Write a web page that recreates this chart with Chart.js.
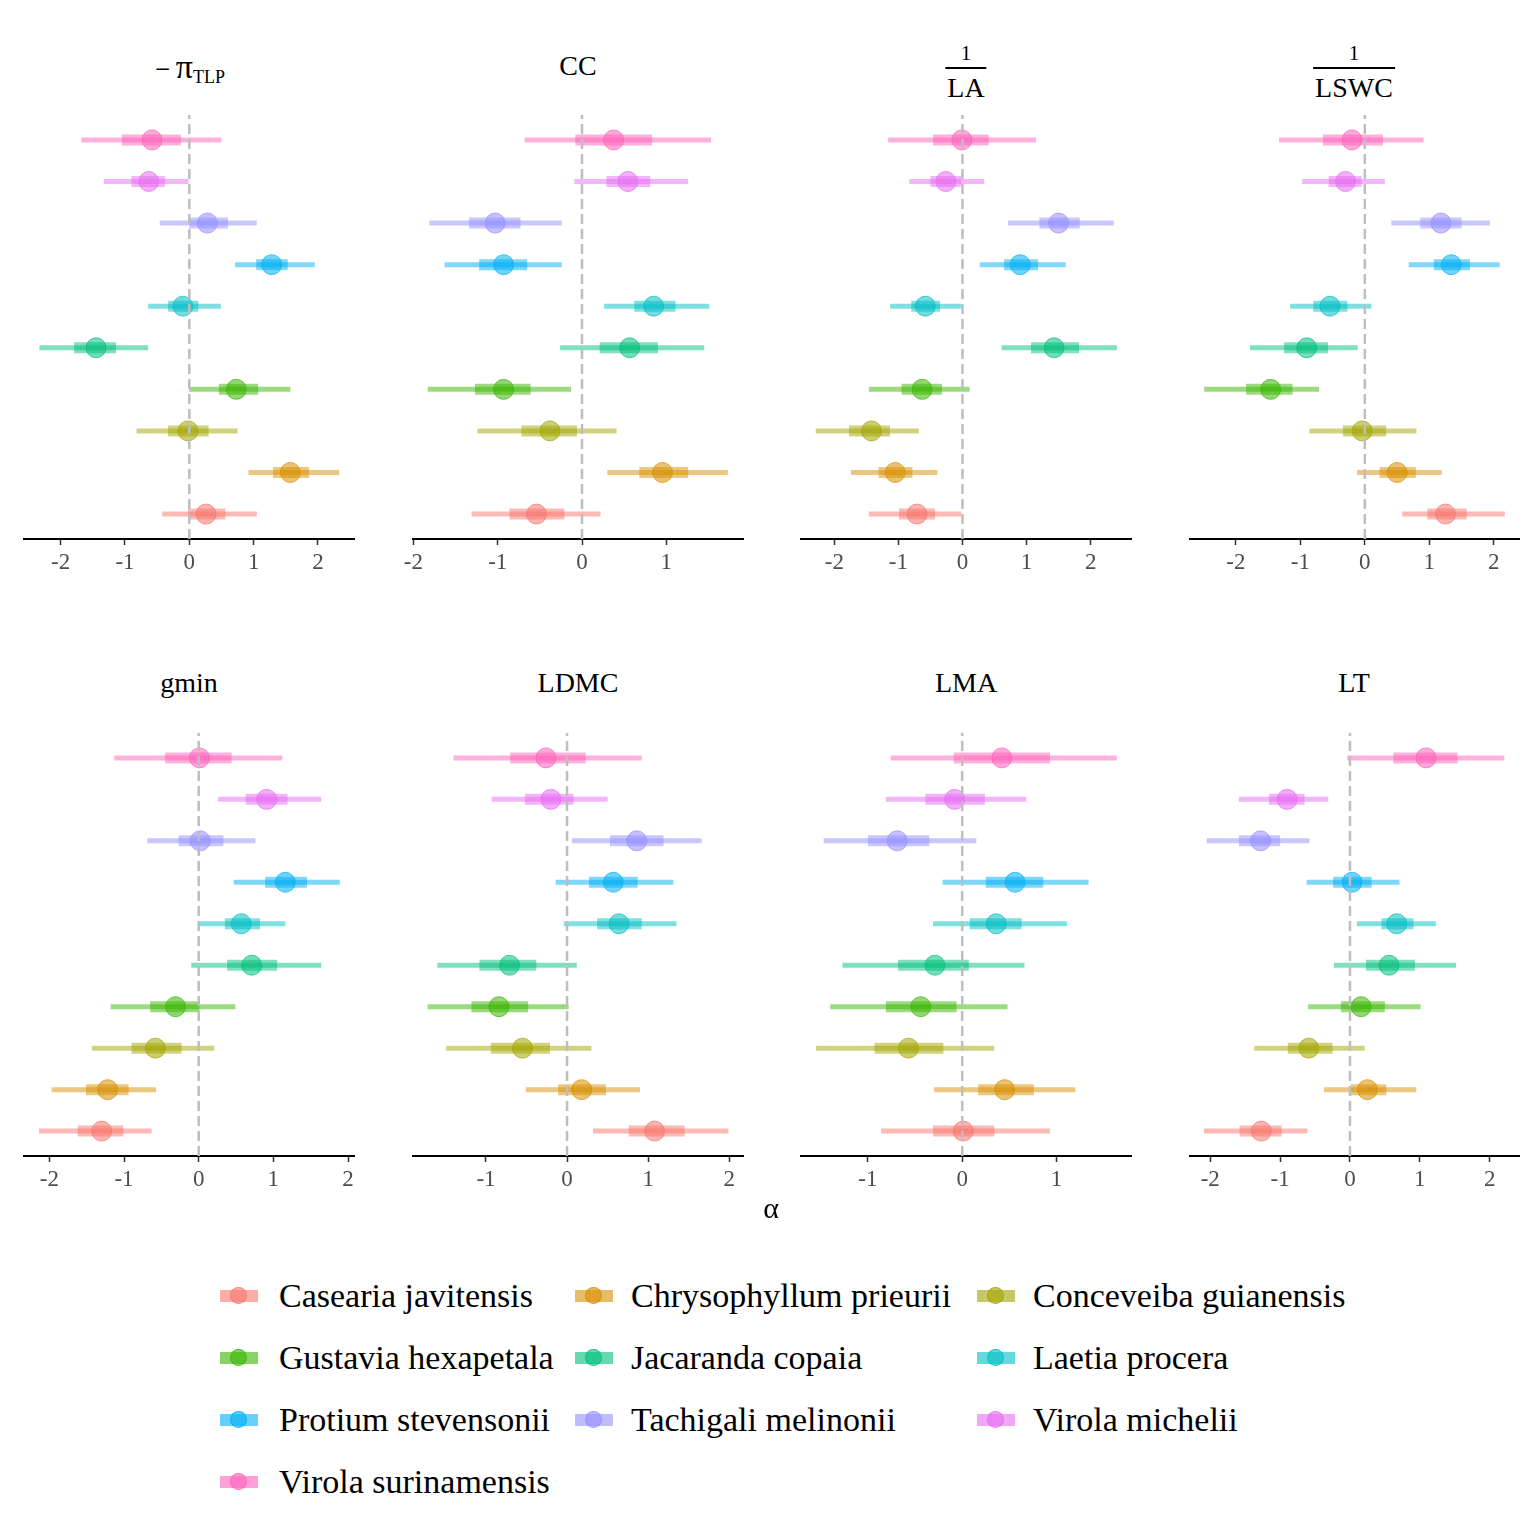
<!DOCTYPE html>
<html>
<head>
<meta charset="utf-8">
<script src="https://cdn.jsdelivr.net/npm/chart.js@4/dist/chart.umd.min.js"></script>
<style>
  html, body { margin: 0; padding: 0; background: #fff; }
  body { width: 1536px; height: 1536px; position: relative; overflow: hidden;
         font-family: "Liberation Serif", "DejaVu Serif", serif; color: #000; }
  canvas.cv { position: absolute; }
  .t { position: absolute; transform: translate(-50%, -50%); white-space: nowrap; line-height: 1; }
  .den { position: absolute; transform: translateX(-50%); white-space: nowrap; line-height: 28px;
         border-top: 2px solid #000; padding: 5px 2px 0 2px; font-size: 28px; }
  .key { position: absolute; width: 38px; height: 12px; transform: translateY(-50%); }
  .keydot { position: absolute; width: 17px; height: 17px; border-radius: 50%; left: 10px; top: -3.5px; box-sizing: border-box; }
  .lt { position: absolute; transform: translateY(-50%); font-size: 34px; white-space: nowrap; line-height: 1; }
</style>
</head>
<body>
<script>
// ---------------- DATA ----------------
const species = [
  "Casearia javitensis", "Chrysophyllum prieurii", "Conceveiba guianensis",
  "Gustavia hexapetala", "Jacaranda copaia", "Laetia procera",
  "Protium stevensonii", "Tachigali melinonii", "Virola michelii", "Virola surinamensis"
];
const speciesColors = ["#F8766D","#D89000","#A3A500","#39B600","#00BF7D","#00BFC4","#00B0F6","#9590FF","#E76BF3","#FF62BC"];

// -pi_TLP
const tlpPoint = [0.26, 1.57, -0.02, 0.73, -1.45, -0.10, 1.28, 0.28, -0.63, -0.58];
const tlpInner = [[-0.02,0.56],[1.30,1.86],[-0.33,0.30],[0.46,1.07],[-1.79,-1.14],[-0.33,0.14],[1.04,1.53],[0.00,0.60],[-0.90,-0.38],[-1.05,-0.13]];
const tlpOuter = [[-0.42,1.05],[0.92,2.33],[-0.82,0.75],[0.00,1.57],[-2.33,-0.64],[-0.64,0.49],[0.71,1.95],[-0.46,1.05],[-1.33,-0.01],[-1.68,0.50]];
// CC
const ccPoint = [-0.54, 0.955, -0.38, -0.93, 0.565, 0.85, -0.93, -1.03, 0.545, 0.375];
const ccInner = [[-0.86,-0.21],[0.68,1.26],[-0.72,-0.06],[-1.27,-0.61],[0.21,0.90],[0.62,1.11],[-1.22,-0.65],[-1.34,-0.73],[0.29,0.81],[-0.08,0.83]];
const ccOuter = [[-1.31,0.22],[0.30,1.73],[-1.24,0.41],[-1.83,-0.13],[-0.26,1.45],[0.26,1.51],[-1.63,-0.24],[-1.81,-0.24],[-0.09,1.26],[-0.68,1.53]];
// 1/LA
const laPoint = [-0.71, -1.05, -1.42, -0.63, 1.43, -0.58, 0.90, 1.50, -0.26, -0.01];
const laInner = [[-0.99,-0.43],[-1.31,-0.78],[-1.77,-1.13],[-0.95,-0.32],[1.07,1.82],[-0.80,-0.35],[0.65,1.18],[1.20,1.83],[-0.50,-0.02],[-0.46,0.41]];
const laOuter = [[-1.46,-0.02],[-1.74,-0.39],[-2.29,-0.68],[-1.46,0.11],[0.61,2.41],[-1.13,-0.02],[0.27,1.61],[0.71,2.36],[-0.83,0.34],[-1.16,1.15]];
// 1/LSWC
const lswcPoint = [1.25, 0.50, -0.04, -1.46, -0.90, -0.54, 1.34, 1.18, -0.30, -0.20];
const lswcInner = [[0.97,1.58],[0.23,0.79],[-0.34,0.33],[-1.84,-1.12],[-1.25,-0.57],[-0.80,-0.27],[1.07,1.63],[0.86,1.50],[-0.56,-0.05],[-0.65,0.28]];
const lswcOuter = [[0.58,2.17],[-0.12,1.19],[-0.86,0.80],[-2.49,-0.71],[-1.78,-0.11],[-1.16,0.10],[0.68,2.09],[0.41,1.94],[-0.97,0.31],[-1.33,0.91]];
// gmin
const gminPoint = [-1.30, -1.22, -0.58, -0.31, 0.71, 0.57, 1.16, 0.02, 0.91, 0.01];
const gminInner = [[-1.62,-1.01],[-1.51,-0.94],[-0.90,-0.23],[-0.65,0.01],[0.38,1.05],[0.35,0.82],[0.89,1.45],[-0.27,0.33],[0.63,1.19],[-0.45,0.44]];
const gminOuter = [[-2.14,-0.63],[-1.97,-0.57],[-1.43,0.21],[-1.18,0.49],[-0.10,1.64],[0.01,1.16],[0.47,1.89],[-0.69,0.76],[0.26,1.64],[-1.13,1.12]];
// LDMC
const ldmcPoint = [1.08, 0.18, -0.55, -0.84, -0.71, 0.64, 0.57, 0.86, -0.20, -0.26];
const ldmcInner = [[0.76,1.45],[-0.11,0.48],[-0.94,-0.21],[-1.18,-0.48],[-1.08,-0.38],[0.37,0.92],[0.27,0.87],[0.53,1.19],[-0.52,0.08],[-0.70,0.23]];
const ldmcOuter = [[0.32,1.99],[-0.51,0.90],[-1.49,0.30],[-1.72,0.02],[-1.60,0.12],[-0.04,1.35],[-0.14,1.31],[0.06,1.66],[-0.93,0.50],[-1.40,0.92]];
// LMA
const lmaPoint = [0.01, 0.45, -0.57, -0.44, -0.29, 0.36, 0.56, -0.69, -0.08, 0.42];
const lmaInner = [[-0.31,0.34],[0.17,0.76],[-0.93,-0.20],[-0.81,-0.06],[-0.68,0.07],[0.08,0.63],[0.25,0.86],[-1.00,-0.35],[-0.39,0.24],[-0.09,0.93]];
const lmaOuter = [[-0.86,0.93],[-0.30,1.20],[-1.55,0.34],[-1.40,0.48],[-1.27,0.66],[-0.31,1.11],[-0.21,1.34],[-1.47,0.15],[-0.81,0.68],[-0.76,1.64]];
// LT
const ltPoint = [-1.27, 0.25, -0.59, 0.16, 0.56, 0.67, 0.03, -1.28, -0.90, 1.09];
const ltInner = [[-1.58,-0.98],[0.01,0.52],[-0.89,-0.25],[-0.13,0.50],[0.23,0.93],[0.45,0.91],[-0.24,0.31],[-1.59,-1.00],[-1.16,-0.65],[0.62,1.54]];
const ltOuter = [[-2.09,-0.61],[-0.37,0.95],[-1.37,0.21],[-0.60,1.01],[-0.23,1.52],[0.10,1.23],[-0.62,0.71],[-2.05,-0.58],[-1.59,-0.31],[-0.04,2.21]];

// tick labels per panel
const ticksFull = [-2, -1, 0, 1, 2];
const ticksCC = [-2, -1, 0, 1];
const ticksLDMC = [-1, 0, 1, 2];
const ticksLMA = [-1, 0, 1];

// ---------------- LAYOUT ----------------
const panels = [
  { point: tlpPoint,  inner: tlpInner,  outer: tlpOuter,  xmin: -2.57, xmax: 2.56, ticks: ticksFull, left: 24,  top: 114, w: 330, h: 425 },
  { point: ccPoint,   inner: ccInner,   outer: ccOuter,   xmin: -2.005, xmax: 1.91, ticks: ticksCC,  left: 413, top: 114, w: 330, h: 425 },
  { point: laPoint,   inner: laInner,   outer: laOuter,   xmin: -2.52, xmax: 2.63, ticks: ticksFull, left: 801, top: 114, w: 330, h: 425 },
  { point: lswcPoint, inner: lswcInner, outer: lswcOuter, xmin: -2.71, xmax: 2.39, ticks: ticksFull, left: 1190, top: 114, w: 329, h: 425 },
  { point: gminPoint, inner: gminInner, outer: gminOuter, xmin: -2.34, xmax: 2.08, ticks: ticksFull, left: 24,  top: 732, w: 330, h: 424 },
  { point: ldmcPoint, inner: ldmcInner, outer: ldmcOuter, xmin: -1.90, xmax: 2.17, ticks: ticksLDMC, left: 413, top: 732, w: 330, h: 424 },
  { point: lmaPoint,  inner: lmaInner,  outer: lmaOuter,  xmin: -1.71, xmax: 1.79, ticks: ticksLMA,  left: 801, top: 732, w: 330, h: 424 },
  { point: ltPoint,   inner: ltInner,   outer: ltOuter,   xmin: -2.29, xmax: 2.42, ticks: ticksFull, left: 1190, top: 732, w: 329, h: 424 }
];

function rgba(hex, a) {
  const n = parseInt(hex.slice(1), 16);
  return `rgba(${(n >> 16) & 255},${(n >> 8) & 255},${n & 255},${a})`;
}

const PADX = 30, PADT = 10, AXH = 50;
const YMIN = 0.4, YMAX = 10.6;

panels.forEach((p) => {
  const cv = document.createElement('canvas');
  cv.className = 'cv';
  const W = p.w + 2 * PADX, H = PADT + p.h + AXH;
  cv.width = W; cv.height = H;
  cv.style.width = W + 'px'; cv.style.height = H + 'px';
  cv.style.left = (p.left - PADX) + 'px';
  cv.style.top = (p.top - PADT) + 'px';
  document.body.appendChild(cv);

  const datasets = [];
  datasets.push({
    data: [{ x: 0, y: YMIN }, { x: 0, y: YMAX }], showLine: true,
    borderColor: '#BEBEBE', borderWidth: 2.5, borderDash: [10, 5],
    pointRadius: 0, order: -1, clip: false
  });
  species.forEach((sp, i) => {
    const y = i + 1, c = speciesColors[i];
    datasets.push({
      data: [{ x: p.outer[i][0], y }, { x: p.outer[i][1], y }], showLine: true,
      borderColor: rgba(c, 0.5), borderWidth: 5, borderCapStyle: 'butt',
      pointRadius: 0, order: 3, clip: false
    });
    datasets.push({
      data: [{ x: p.inner[i][0], y }, { x: p.inner[i][1], y }], showLine: true,
      borderColor: rgba(c, 0.5), borderWidth: 11, borderCapStyle: 'butt',
      pointRadius: 0, order: 2, clip: false
    });
    datasets.push({
      data: [{ x: p.point[i], y }], pointRadius: 10,
      backgroundColor: rgba(c, 0.55), borderColor: rgba(c, 0.7), borderWidth: 1,
      order: 1, clip: false
    });
  });

  new Chart(cv, {
    type: 'scatter',
    data: { datasets },
    options: {
      responsive: false, animation: false, devicePixelRatio: 1,
      layout: { padding: { left: PADX, right: PADX, top: PADT, bottom: 0 } },
      plugins: { legend: { display: false }, tooltip: { enabled: false } },
      scales: {
        x: {
          type: 'linear', position: 'bottom', min: p.xmin, max: p.xmax,
          afterBuildTicks: (s) => { s.ticks = p.ticks.map(v => ({ value: v })); },
          afterFit: (s) => { s.paddingLeft = 0; s.paddingRight = 0; s.height = AXH; },
          grid: { display: true, drawOnChartArea: false, drawTicks: true, tickLength: 6, tickColor: '#333333', tickWidth: 1.5 },
          border: { display: true, color: '#000', width: 2 },
          ticks: {
            color: '#4D4D4D', padding: 4,
            font: { family: '"Liberation Serif", "DejaVu Serif", serif', size: 23 },
            callback: (v) => String(v)
          }
        },
        y: { type: 'linear', min: YMIN, max: YMAX, display: false }
      }
    }
  });
});

// ---------------- TEXT ----------------
function addText(html, x, y, size, extra) {
  const d = document.createElement('div');
  d.className = 't';
  d.innerHTML = html;
  d.style.left = x + 'px'; d.style.top = y + 'px';
  d.style.fontSize = size + 'px';
  if (extra) Object.assign(d.style, extra);
  document.body.appendChild(d);
  return d;
}
function addFrac(num, den, x) {
  addText(num, x, 53, 21);
  const d = document.createElement('div');
  d.className = 'den';
  d.textContent = den;
  d.style.left = x + 'px'; d.style.top = '67px';
  document.body.appendChild(d);
}

addText('<span style="font-size:27px">&minus;</span>&thinsp;<span style="font-size:34px">&pi;</span><span style="font-size:18px;position:relative;top:5px">TLP</span>', 190, 67, 28);
addText('CC', 578, 66, 28);
addFrac('1', 'LA', 966);
addFrac('1', 'LSWC', 1354);
addText('gmin', 189, 683, 28);
addText('LDMC', 578, 683, 28);
addText('LMA', 966, 683, 28);
addText('LT', 1354, 683, 28);
addText('&alpha;', 771, 1208, 30);

// ---------------- LEGEND ----------------
const legKeyX = [220, 575, 977];
const legTextX = [279, 631, 1033];
const legRowY = [1296, 1358, 1420, 1482];
species.forEach((sp, i) => {
  const r = Math.floor(i / 3), c = i % 3;
  const key = document.createElement('div');
  key.className = 'key';
  key.style.left = legKeyX[c] + 'px';
  key.style.top = legRowY[r] + 'px';
  key.style.background = rgba(speciesColors[i], 0.6);
  const dot = document.createElement('div');
  dot.className = 'keydot';
  dot.style.background = rgba(speciesColors[i], 0.6);
  dot.style.border = '1px solid ' + rgba(speciesColors[i], 0.8);
  key.appendChild(dot);
  document.body.appendChild(key);
  const t = document.createElement('div');
  t.className = 'lt';
  t.textContent = sp;
  t.style.left = legTextX[c] + 'px';
  t.style.top = legRowY[r] + 'px';
  document.body.appendChild(t);
});
</script>
</body>
</html>
